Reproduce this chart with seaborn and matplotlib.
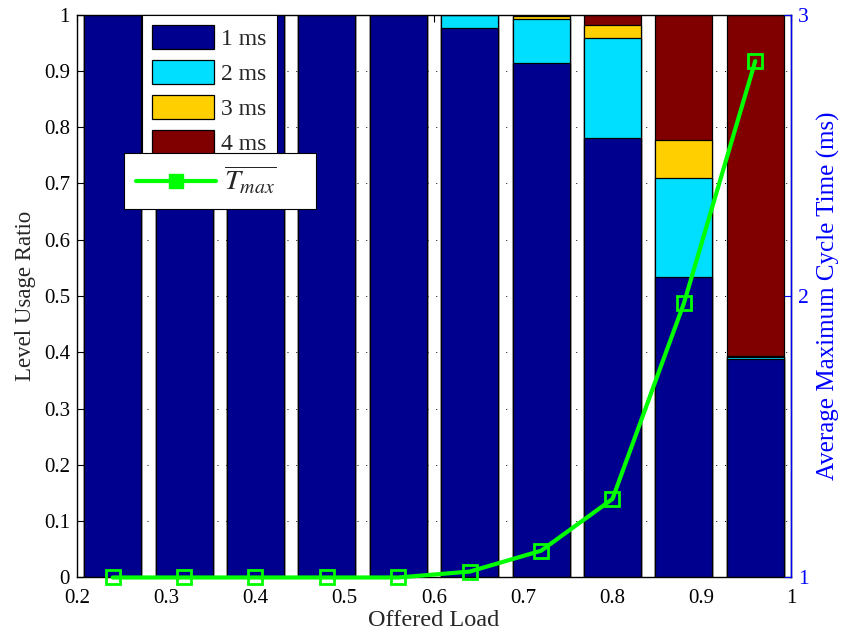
import matplotlib
matplotlib.use("Agg")
import matplotlib.pyplot as plt
from matplotlib.patches import Patch
from matplotlib.lines import Line2D
import numpy as np
import pandas as pd
import seaborn as sns

# Offered load values (bar centres)
load = [0.24, 0.32, 0.40, 0.48, 0.56, 0.64, 0.72, 0.80, 0.88, 0.96]

# Share of cycles using each time level
level_1ms = [1.0, 1.0, 1.0, 1.0, 1.0, 0.976, 0.914, 0.781, 0.534, 0.389]
level_2ms = [0.0, 0.0, 0.0, 0.0, 0.0, 0.024, 0.078, 0.177, 0.175, 0.002]
level_3ms = [0.0, 0.0, 0.0, 0.0, 0.0, 0.000, 0.005, 0.023, 0.069, 0.002]
level_4ms = [0.0, 0.0, 0.0, 0.0, 0.0, 0.000, 0.003, 0.019, 0.222, 0.607]

# Average maximum cycle time (ms), right axis
tmax = [1.0, 1.0, 1.0, 1.0, 1.0, 1.021, 1.095, 1.279, 1.974, 2.835]

level_names = ["1 ms", "2 ms", "3 ms", "4 ms"]
level_colors = ["#00008F", "#00DFFF", "#FFCF00", "#800000"]

sns.set_style("white")
plt.rcParams["font.family"] = ["Liberation Serif", "DejaVu Serif"]
plt.rcParams["mathtext.fontset"] = "stix"

df = pd.DataFrame({"load": load, "l1": level_1ms, "l2": level_2ms,
                   "l3": level_3ms, "l4": level_4ms, "tmax": tmax})
cum = df[["l1", "l2", "l3", "l4"]].cumsum(axis=1)

fig = plt.figure(figsize=(8.42, 6.36), dpi=100)
ax = fig.add_axes([0.0914, 0.092, 0.848, 0.885])

# Stacked bars: draw cumulative totals from the top level down
for col, color in zip(["l4", "l3", "l2", "l1"], level_colors[::-1]):
    sns.barplot(x=df["load"], y=cum[col], native_scale=True, color=color,
                saturation=1, edgecolor="black", linewidth=0.9,
                errorbar=None, ax=ax)

ax.set_xlim(0.2, 1.0)
ax.set_ylim(0, 1)
ax.set_xticks(np.arange(0.2, 1.01, 0.1))
ax.set_xticklabels(["0.2", "0.3", "0.4", "0.5", "0.6", "0.7", "0.8", "0.9", "1"])
ax.set_yticks(np.arange(0, 1.01, 0.1))
ax.set_yticklabels(["0", "0.1", "0.2", "0.3", "0.4", "0.5", "0.6", "0.7",
                    "0.8", "0.9", "1"])
ax.set_axisbelow(True)
ax.yaxis.grid(True, color="black", linestyle=(0, (1, 8)), linewidth=0.7)
ax.tick_params(direction="in", length=5, width=0.8, top=True, right=True,
               labelsize=15, colors="black")
ax.tick_params(axis="x", pad=8)
ax.tick_params(axis="y", pad=5)
ax.set_xlabel("Offered Load", fontsize=17.5, labelpad=2)
ax.set_ylabel("Level Usage Ratio", fontsize=16.5, labelpad=6)
for s in ax.spines.values():
    s.set_color("black")
    s.set_linewidth(1.0)

# Right axis: average maximum cycle time
ax2 = ax.twinx()
sns.lineplot(x=df["load"], y=df["tmax"], ax=ax2, color="#00FF00",
             linewidth=3, marker="s", markersize=10,
             markerfacecolor="none", markeredgecolor="#00FF00",
             markeredgewidth=2, clip_on=False, zorder=5)
ax2.set_ylim(1, 3)
ax2.set_yticks([1, 2, 3])
ax2.set_yticklabels(["1", "2", "3"])
ax2.tick_params(axis="y", direction="in", length=5, colors="blue",
                labelsize=15.5, pad=5)
ax2.set_ylabel("Average Maximum Cycle Time (ms)", color="blue",
               fontsize=18, labelpad=6)
ax2.spines["right"].set_color("blue")
ax2.spines["right"].set_linewidth(1.0)
for side in ["left", "top", "bottom"]:
    ax2.spines[side].set_visible(False)

# Legends
bar_handles = [Patch(facecolor=c, edgecolor="black", linewidth=0.9)
               for c in level_colors]
leg1 = ax2.legend(bar_handles, level_names, loc="upper left",
                  bbox_to_anchor=(0.0906, 1.0), borderaxespad=0,
                  fontsize=17, frameon=True, fancybox=False,
                  edgecolor="black", framealpha=1, handlelength=2.63,
                  handleheight=1.14, handletextpad=0.3, labelspacing=0.44,
                  borderpad=0.45)
leg1.get_frame().set_linewidth(0.8)
ax2.add_artist(leg1)

line_handle = Line2D([], [], color="#00FF00", linewidth=3, marker="s",
                     markersize=10, markerfacecolor="#00FF00",
                     markeredgecolor="#00FF00")
leg2 = ax2.legend([line_handle], [r"$\overline{T_{max}}$"],
                  loc="upper left",
                  bbox_to_anchor=(0.0662, 0.6575, 0.269, 0.097),
                  mode="expand", borderaxespad=0, fontsize=20.5,
                  frameon=True, fancybox=False, edgecolor="black",
                  framealpha=1, handlelength=2.8, handletextpad=0.3,
                  borderpad=0.42)
leg2.get_frame().set_linewidth(0.8)
leg2.set_zorder(10)

fig.savefig("out.png", dpi=100)
